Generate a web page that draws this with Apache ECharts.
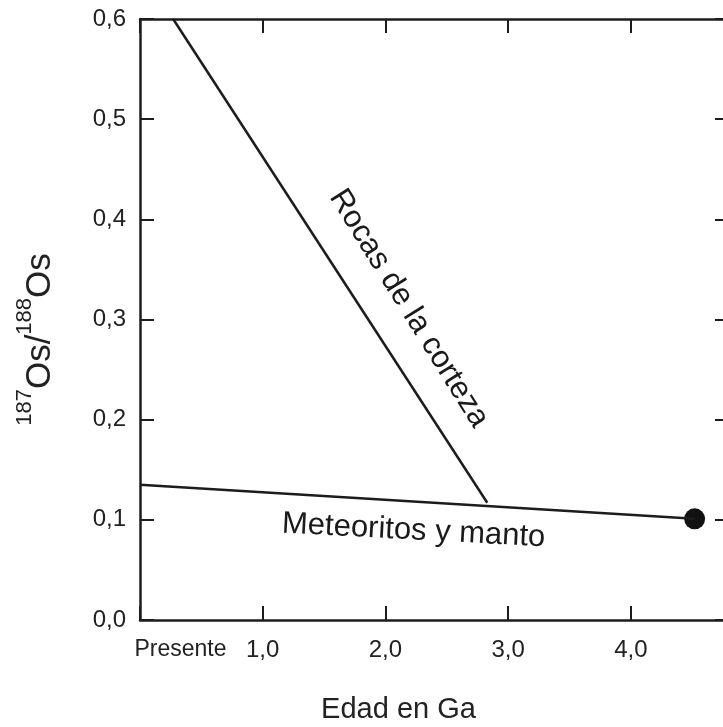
<!DOCTYPE html>
<html>
<head>
<meta charset="utf-8">
<script src="https://cdn.jsdelivr.net/npm/echarts@6/dist/echarts.min.js"></script>
<style>
  html, body { margin: 0; padding: 0; background: #fff; }
  #main { width: 723px; height: 727px; }
</style>
</head>
<body>
<div id="main"></div>
<script>
const main = document.getElementById('main')

// datos (edad en Ga, 187Os/188Os)
const xTicks = [0, 1, 2, 3, 4]
const xTickLabels = ['Presente', '1,0', '2,0', '3,0', '4,0']
const yTickLabels = ['0,0', '0,1', '0,2', '0,3', '0,4', '0,5', '0,6']
const corteza = [[0.27, 0.6], [2.83, 0.117]]
const manto = [[0, 0.135], [4.52, 0.101]]
const meteorito = [[4.52, 0.101]]
const etiquetas = [
  { name: 'Rocas de la corteza', value: [2.19, 0.311], rotate: -58 },
  { name: 'Meteoritos y manto', value: [2.23, 0.089], rotate: -3 }
]

const ink = '#1c1c1c'
const txt = '#222'
const font = 'Liberation Sans'

const myChart = echarts.init(main, null, { renderer: 'canvas' })

const baseX = {
  type: 'value',
  min: 0,
  max: 4.8,
  interval: 1,
  splitLine: { show: false },
  axisLine: { show: true, onZero: false, lineStyle: { color: ink, width: 2.5 } },
  axisTick: { show: true, inside: true, length: 14, lineStyle: { color: ink, width: 2 },
    customValues: xTicks },
}
const baseY = {
  type: 'value',
  min: 0,
  max: 0.6,
  interval: 0.1,
  splitLine: { show: false },
  axisLine: { show: true, onZero: false, lineStyle: { color: ink, width: 2.5 } },
  axisTick: { show: true, inside: true, length: 14, lineStyle: { color: ink, width: 2 } },
}

myChart.setOption({
  backgroundColor: '#fff',
  animation: false,
  grid: { left: 140, right: -6, top: 19, bottom: 107, outerBoundsMode: 'none' },
  xAxis: [
    Object.assign({}, baseX, {
      position: 'bottom',
      name: 'Edad en Ga',
      nameLocation: 'middle',
      nameGap: 75,
      nameTextStyle: { fontFamily: font, fontSize: 29, color: txt, padding: [0, 72, 0, 0] },
      axisLabel: {
        margin: 18,
        fontFamily: font,
        fontSize: 24,
        color: txt,
        customValues: xTicks,
        formatter: v => {
          const i = xTicks.indexOf(Math.round(v))
          return i === 0 ? '{p|' + xTickLabels[0] + '}' : xTickLabels[i]
        },
        rich: { p: { fontFamily: font, fontSize: 23, color: txt, padding: [0, 0, 0, 81] } }
      }
    }),
    Object.assign({}, baseX, {
      position: 'top',
      axisLabel: { show: false }
    })
  ],
  yAxis: [
    Object.assign({}, baseY, {
      position: 'left',
      name: '{s|187}{b|Os/}{s|188}{b|Os}',
      nameLocation: 'middle',
      nameRotate: 90,
      nameGap: 82,
      nameTextStyle: {
        padding: [0, 40, 0, 0],
        rich: {
          b: { fontFamily: font, fontSize: 35, color: txt, lineHeight: 44, verticalAlign: 'bottom' },
          s: { fontFamily: font, fontSize: 22, color: txt, lineHeight: 44, verticalAlign: 'top' }
        }
      },
      axisLabel: {
        margin: 14,
        fontFamily: font,
        fontSize: 24,
        color: txt,
        formatter: v => yTickLabels[Math.round(v * 10)]
      }
    }),
    Object.assign({}, baseY, {
      position: 'right',
      axisLabel: { show: false }
    })
  ],
  series: [
    {
      name: 'Rocas de la corteza',
      type: 'line',
      data: corteza,
      symbol: 'none',
      lineStyle: { color: ink, width: 2.5 }
    },
    {
      name: 'Meteoritos y manto',
      type: 'line',
      data: manto,
      symbol: 'none',
      lineStyle: { color: ink, width: 2.5 }
    },
    {
      type: 'scatter',
      data: meteorito,
      symbolSize: 21,
      itemStyle: { color: '#111', opacity: 1 }
    },
    {
      type: 'scatter',
      data: etiquetas.map(e => ({ name: e.name, value: e.value, label: { rotate: e.rotate } })),
      symbolSize: 1,
      itemStyle: { color: 'rgba(0,0,0,0)' },
      label: {
        show: true,
        position: 'inside',
        formatter: p => p.name,
        fontFamily: font,
        fontSize: 31,
        color: '#1a1a1a',
        opacity: 1,
        textBorderWidth: 0
      }
    }
  ]
})
</script>
</body>
</html>
